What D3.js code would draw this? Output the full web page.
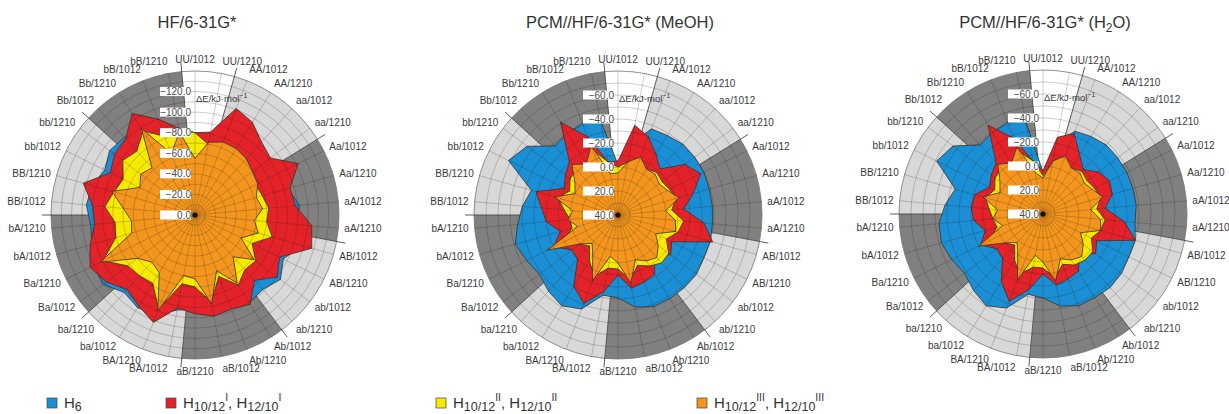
<!DOCTYPE html>
<html>
<head>
<meta charset="utf-8">
<script src="https://cdn.jsdelivr.net/npm/d3@7"></script>
<style>
  body { margin: 0; background: #fff; }
  svg { display: block; font-family: "Liberation Sans", Arial, sans-serif; }
</style>
</head>
<body>
<svg id="chart" width="1229" height="414"></svg>
<script>
// Conformers (spokes, clockwise from the top)
const categories = [
  "UU/1012","UU/1210","AA/1012","AA/1210","aa/1012","aa/1210","Aa/1012","Aa/1210",
  "aA/1012","aA/1210","AB/1012","AB/1210","ab/1012","ab/1210","Ab/1012","Ab/1210",
  "aB/1012","aB/1210","BA/1012","BA/1210","ba/1012","ba/1210","Ba/1012","Ba/1210",
  "bA/1012","bA/1210","BB/1012","BB/1210","bb/1012","bb/1210","Bb/1012","Bb/1210",
  "bB/1012","bB/1210"
];
// Background sectors: conformer families sharing a shade
const sectorKeys = ["UU", "AA aa", "Aa aA", "AB ab", "Ab aB", "BA ba", "Ba bA", "BB bb", "Bb bB"];

const panelTitles = ["HF/6-31G*", "PCM//HF/6-31G* (MeOH)", "PCM//HF/6-31G* (H2O)"];
const seriesNames = ["H6", "H10/12 I", "H10/12 II", "H10/12 III"];

// ΔE / kJ mol-1, HF/6-31G*
const gasH6   = [-78,-80,-100,-100,-94,-90,-106,-94,-102,-100,-108,-96,-104,-98,-100,-94,-98,-92,-94,-104,-106,-102,-112,-110,-104,-102,-106,-104,-98,-104,-102,-104,-96,-84];
const gasHI   = [-80,-82,-111,-106,-96,-92,-112,-96,-98,-114,-118,-92,-100,-86,-102,-98,-100,-96,-92,-112,-104,-98,-108,-114,-106,-98,-100,-113,-92,-98,-100,-116,-100,-86];
const gasHII  = [-80,-70,-74,-76,-74,-70,-66,-68,-72,-70,-78,-62,-74,-72,-80,-64,-86,-70,-68,-98,-78,-80,-82,-100,-80,-78,-88,-82,-78,-88,-84,-96,-82,-86];
const gasHIII = [-55,-72,-76,-76,-74,-70,-68,-62,-66,-58,-64,-50,-72,-55,-78,-58,-88,-62,-60,-100,-66,-62,-70,-103,-64,-62,-70,-84,-60,-66,-62,-99,-64,-82];

// PCM (MeOH)
const meohH6   = [-2,-20,-37,-38,-40,-40,-40,-39,-39,-39,-40,-40,-42,-42,-42,-42,-38,-29,-28,-44,-49,-46,-42,-45,-49,-44,-40,-35,-62,-55,-38,-40,-42,-41];
const meohHI   = [-5,-36,-30,-20,-12,-30,-37,-25,-15,-32,-42,-10,-15,-5,-18,-20,-22,-10,-25,-39,-30,-10,-8,-20,-10,-20,-24,-31,-10,-15,-20,-51,-30,-5];
const meohHII  = [0,-5,-10,-5,-8,-6,-8,-10,-5,-15,-12,-5,-13,-14,-10,-5,-15,-5,-5,-15,-5,5,0,-10,0,0,-5,-12,-5,-10,-12,-10,-18,-5];
const meohHIII = [5,-5,-12,-5,-6,-3,-6,-13,0,-8,-10,5,-2,-8,-5,0,-18,0,5,-19,0,8,0,-26,5,-2,2,-15,0,-5,-17,-10,-22,5];

// PCM (H2O)
const waterH6   = [5,-20,-34,-36,-38,-38,-38,-38,-38,-37,-40,-40,-42,-43,-42,-42,-38,-30,-28,-44,-50,-46,-42,-45,-48,-47,-42,-36,-59,-54,-38,-40,-42,-39];
const waterHI   = [4,-25,-32,-18,-10,-18,-22,-20,-12,-28,-40,-10,-15,-5,-16,-18,-20,-10,-24,-38,-26,-10,-8,-18,-10,-18,-20,-19,-10,-14,-18,-47,-28,-5];
const waterHII  = [8,-5,-10,-5,-8,-6,-8,-10,-5,-12,-10,-5,-12,-12,-10,-5,-14,-5,-5,-14,-5,5,0,-10,0,-2,-5,-10,-5,-10,-12,-10,-16,-5];
const waterHIII = [10,-5,-12,-5,-6,-3,-6,-12,0,-8,-10,5,-2,-8,-5,0,-17,0,5,-19,0,8,0,-20,5,-2,2,-12,0,-5,-16,-10,-20,5];

const gasTicks = [0, -20, -40, -60, -80, -100, -120];
const solvTicks = [40, 20, 0, -20, -40, -60];

const svg = d3.select("#chart");
const R = 144;
const seriesColors = ["#1a8fd5", "#e4222a", "#f7ea00", "#f4961e"];
const angle = d3.scaleLinear().domain([0, categories.length]).range([0, 2 * Math.PI]);

function familyOf(cat) { return cat.split("/")[0]; }

function sectorSpan(key) {
  const members = key.split(" ");
  const idx = categories.map((c, i) => members.includes(familyOf(c)) ? i : -1).filter(i => i >= 0);
  return [angle(d3.min(idx) - 0.5), angle(d3.max(idx) + 0.5)];
}

function drawPanel(cx, cy, title, domain, ticks, series) {
  const g = svg.append("g").attr("transform", `translate(${cx},${cy})`);
  const r = d3.scaleLinear().domain(domain).range([0, R]);

  // shaded sectors
  sectorKeys.forEach((key, k) => {
    const [a0, a1] = sectorSpan(key);
    const fill = k === 0 ? "#ffffff" : (k % 2 === 1 ? "#d8d8d8" : "#808080");
    g.append("path")
      .attr("d", d3.arc()({innerRadius: 0, outerRadius: R, startAngle: a0, endAngle: a1}))
      .attr("fill", fill);
  });
  g.append("circle").attr("r", R).attr("fill", "none").attr("stroke", "#9a9a9a").attr("stroke-width", 0.7);

  // sector boundary lines running past the rim
  sectorKeys.forEach(key => {
    const a = sectorSpan(key)[0];
    g.append("line")
      .attr("x1", 0).attr("y1", 0)
      .attr("x2", (R + 9) * Math.sin(a)).attr("y2", -(R + 9) * Math.cos(a))
      .attr("stroke", "#4a4a4a").attr("stroke-width", 0.9);
  });

  // series polygons, H6 at the back
  const radial = d3.lineRadial()
    .angle((d, i) => angle(i))
    .radius(d => r(d))
    .curve(d3.curveLinearClosed);
  series.forEach((vals, s) => {
    g.append("path")
      .attr("d", radial(vals))
      .attr("fill", seriesColors[s])
      .attr("stroke", "#3b3125")
      .attr("stroke-width", 0.8)
      .attr("stroke-linejoin", "miter");
  });

  // grid: rings every 10 units and one spoke per conformer
  const step = domain[1] < domain[0] ? -10 : 10;
  const rings = d3.range(domain[0] + step, domain[1] + step / 2, step);
  g.selectAll(null).data(rings).join("circle")
    .attr("r", d => r(d)).attr("fill", "none")
    .attr("stroke", "rgba(40,30,20,0.38)").attr("stroke-width", 0.6);
  g.selectAll(null).data(categories).join("line")
    .attr("x1", 0).attr("y1", 0)
    .attr("x2", (d, i) => R * Math.sin(angle(i)))
    .attr("y2", (d, i) => -R * Math.cos(angle(i)))
    .attr("stroke", "rgba(40,30,20,0.38)").attr("stroke-width", 0.6);

  // conformer labels
  g.selectAll(null).data(categories).join("text")
    .attr("x", (d, i) => 150 * Math.sin(angle(i)))
    .attr("y", (d, i) => -(150 + 6 * Math.abs(Math.cos(angle(i)))) * Math.cos(angle(i)))
    .attr("text-anchor", (d, i) => {
      const s = Math.sin(angle(i));
      return s > 0.15 ? "start" : (s < -0.15 ? "end" : "middle");
    })
    .attr("dominant-baseline", "central")
    .attr("font-size", 10).attr("fill", "#3a3a3a")
    .text(d => d);

  // radial value labels in white boxes
  const fmt = d3.format(".1f");
  ticks.forEach(t => {
    const y = -r(t);
    g.append("rect").attr("x", -35).attr("y", y - 4.5).attr("width", 31).attr("height", 9).attr("fill", "#fff");
    g.append("text").attr("x", -4).attr("y", y).attr("text-anchor", "end")
      .attr("dominant-baseline", "central").attr("font-size", 10).attr("fill", "#4a4a4a")
      .text(fmt(t));
  });

  // unit label
  const u = g.append("text").attr("x", 1).attr("y", -113).attr("font-size", 9.5).attr("fill", "#3a3a3a");
  u.append("tspan").text("\u0394E/kJ\u00b7mol");
  u.append("tspan").attr("dy", -4).attr("font-size", 7).text("\u22121");

  g.append("circle").attr("r", 2.6).attr("fill", "#111");

  // title
  const tt = svg.append("text").attr("x", cx + 2).attr("y", 28).attr("text-anchor", "middle")
    .attr("font-size", 16.5).attr("fill", "#333");
  const m = title.match(/^(.*)H2O\)$/);
  if (m) {
    tt.append("tspan").text(m[1] + "H");
    tt.append("tspan").attr("dy", 4).attr("font-size", 12).text("2");
    tt.append("tspan").attr("dy", -4).text("O)");
  } else {
    tt.text(title);
  }
}

drawPanel(195, 215, panelTitles[0], [0, -140], gasTicks, [gasH6, gasHI, gasHII, gasHIII]);
drawPanel(618, 215, panelTitles[1], [40, -80], solvTicks, [meohH6, meohHI, meohHII, meohHIII]);
drawPanel(1043, 214, panelTitles[2], [40, -80], solvTicks, [waterH6, waterHI, waterHII, waterHIII]);

// legend
const legendX = [47, 166, 436, 697];
const ly = 403;
seriesNames.forEach((name, s) => {
  const lg = svg.append("g").attr("transform", `translate(${legendX[s]},${ly})`);
  lg.append("rect").attr("x", 0).attr("y", -5).attr("width", 10).attr("height", 10)
    .attr("fill", seriesColors[s]).attr("stroke", "#444").attr("stroke-width", 0.7);
  const t = lg.append("text").attr("x", 17).attr("y", 5).attr("font-size", 15).attr("fill", "#333");
  if (s === 0) {
    t.append("tspan").text("H");
    t.append("tspan").attr("dy", 3).attr("font-size", 12.5).text("6");
  } else {
    const sup = name.split(" ")[1];
    t.append("tspan").text("H");
    t.append("tspan").attr("dy", 3).attr("font-size", 12.5).text("10/12");
    t.append("tspan").attr("dy", -10).attr("font-size", 10.5).text(sup);
    t.append("tspan").attr("dy", 7).text(", H");
    t.append("tspan").attr("dy", 3).attr("font-size", 12.5).text("12/10");
    t.append("tspan").attr("dy", -10).attr("font-size", 10.5).text(sup);
  }
});
</script>
</body>
</html>
